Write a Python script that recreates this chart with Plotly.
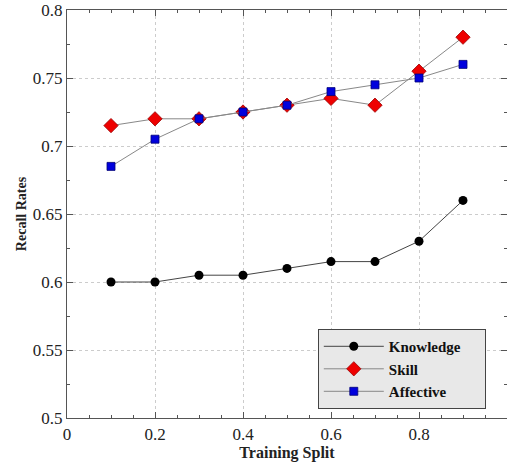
import plotly.graph_objects as go

x = [0.1, 0.2, 0.3, 0.4, 0.5, 0.6, 0.7, 0.8, 0.9]
knowledge = [0.6, 0.6, 0.605, 0.605, 0.61, 0.615, 0.615, 0.63, 0.66]
skill = [0.715, 0.72, 0.72, 0.725, 0.73, 0.735, 0.73, 0.755, 0.78]
affective = [0.685, 0.705, 0.72, 0.725, 0.73, 0.74, 0.745, 0.75, 0.76]
series_names = ["Knowledge", "Skill", "Affective"]
x_ticks = [0, 0.2, 0.4, 0.6, 0.8, 1]
x_labels = ["0", "0.2", "0.4", "0.6", "0.8", "1"]
y_ticks = [0.5, 0.55, 0.6, 0.65, 0.7, 0.75, 0.8]
y_labels = ["0.5", "0.55", "0.6", "0.65", "0.7", "0.75", "0.8"]

SERIF = "Times New Roman, Liberation Serif, serif"
PAD = "\u00a0" * 5

fig = go.Figure()
fig.add_trace(go.Scatter(x=x, y=knowledge, name=series_names[0] + PAD, mode="lines+markers",
                         line=dict(color="#444444", width=1),
                         marker=dict(symbol="circle", size=9, color="black")))
fig.add_trace(go.Scatter(x=x, y=skill, name=series_names[1] + PAD, mode="lines+markers",
                         line=dict(color="#888888", width=1),
                         marker=dict(symbol="diamond", size=11, color="#ee0000",
                                     line=dict(color="#990000", width=0.8))))
fig.add_trace(go.Scatter(x=x, y=affective, name=series_names[2] + PAD, mode="lines+markers",
                         line=dict(color="#888888", width=1),
                         marker=dict(symbol="square", size=8, color="#0000dd",
                                     line=dict(color="#000077", width=0.8))))

axis_common = dict(showline=True, linecolor="#555555", linewidth=1.2, mirror="ticks",
                   ticks="inside", ticklen=6, tickcolor="#555555",
                   showgrid=True, gridcolor="#cccccc", griddash="dot", gridwidth=1,
                   zeroline=False,
                   tickfont=dict(family=SERIF, size=17, color="#222222"))

fig.update_layout(
    width=507, height=463,
    margin=dict(l=67, r=0, t=10, b=45),
    paper_bgcolor="white", plot_bgcolor="white",
    font=dict(family=SERIF, color="#222222"),
    xaxis=dict(range=[0, 1], tickvals=x_ticks, ticktext=x_labels,
               minor=dict(ticks="inside", dtick=0.05, ticklen=3, tickcolor="#555555"),
               title=dict(text="<b>Training Split</b>", font=dict(size=16), standoff=4),
               **axis_common),
    yaxis=dict(range=[0.5, 0.8], tickvals=y_ticks, ticktext=y_labels,
               minor=dict(ticks="inside", dtick=0.025, ticklen=3, tickcolor="#555555"),
               title=dict(text="<b>Recall Rates</b>", font=dict(size=14), standoff=2),
               **axis_common),
    legend=dict(x=0.57, y=0.218, xanchor="left", yanchor="top",
                bgcolor="#e8e8e8", bordercolor="#444444", borderwidth=1,
                font=dict(family=SERIF, size=15, color="#111111", weight="bold"),
                itemwidth=60, tracegroupgap=0),
    showlegend=True,
)

fig.write_html("out.html")
